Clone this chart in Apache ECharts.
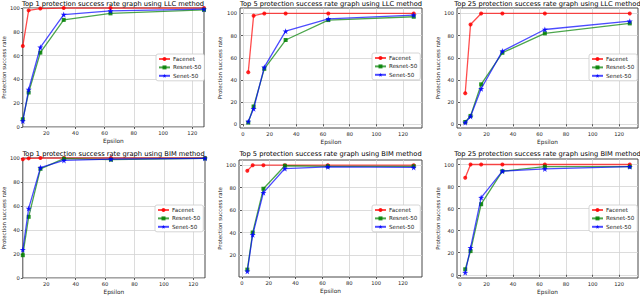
<!DOCTYPE html>
<html>
<head>
<meta charset="utf-8">
<script src="https://cdn.jsdelivr.net/npm/echarts@6/dist/echarts.min.js"></script>
<style>html,body{margin:0;padding:0;background:#fff}#c{width:640px;height:296px}</style>
</head>
<body>
<div id="c"></div>
<script>
// ---------------- data ----------------
const epsilon = [4, 8, 16, 32, 64, 128];
const seriesNames = ['Facenet', 'Resnet-50', 'Senet-50'];
const titles = [
  'Top 1 protection success rate graph using LLC method',
  'Top 5 protection success rate graph using LLC method',
  'Top 25 protection success rate graph using LLC method',
  'Top 1 protection success rate graph using BIM method',
  'Top 5 protection success rate graph using BIM method',
  'Top 25 protection success rate graph using BIM method'
];
const xTickLabels = [0, 20, 40, 60, 80, 100, 120];
const yTickLabels = [0, 20, 40, 60, 80, 100];

const top1LLC_facenet = [68, 98, 99.5, 100, 100, 100];
const top1LLC_resnet  = [6.5, 29, 62.5, 90, 95.5, 98.5];
const top1LLC_senet   = [5, 31.5, 67, 94.5, 97.5, 99];

const top5LLC_facenet = [47, 98, 100, 100, 100, 100];
const top5LLC_resnet  = [1.5, 16, 50, 76, 94, 97];
const top5LLC_senet   = [2.5, 14, 51.5, 84, 95, 98.5];

const top25LLC_facenet = [28, 90, 100, 100, 100, 100];
const top25LLC_resnet  = [2, 7.5, 36, 64.5, 82, 91];
const top25LLC_senet   = [1.5, 7, 32, 66, 85.5, 93];

const top1BIM_facenet = [99, 99.7, 100, 100, 100, 100];
const top1BIM_resnet  = [19, 51, 91, 99.4, 98.6, 99.7];
const top1BIM_senet   = [23.5, 58, 92, 98, 99, 99.7];

const top5BIM_facenet = [95, 100, 100, 100, 100, 100];
const top5BIM_resnet  = [7, 40, 79, 99.5, 99, 99];
const top5BIM_senet   = [5.5, 38, 75.5, 97, 98.5, 98];

const top25BIM_facenet = [88, 100, 100, 100, 100, 100];
const top25BIM_resnet  = [5, 21.5, 64, 94, 98, 98];
const top25BIM_senet   = [2, 24.5, 70, 94, 96, 98];

const panelData = [
  [top1LLC_facenet, top1LLC_resnet, top1LLC_senet],
  [top5LLC_facenet, top5LLC_resnet, top5LLC_senet],
  [top25LLC_facenet, top25LLC_resnet, top25LLC_senet],
  [top1BIM_facenet, top1BIM_resnet, top1BIM_senet],
  [top5BIM_facenet, top5BIM_resnet, top5BIM_senet],
  [top25BIM_facenet, top25BIM_resnet, top25BIM_senet]
];

// ---------------- layout ----------------
const layout = [
  {left: 22,  top: 8,   width: 182, height: 119, xr: [4, 128],      yr: [0, 100],      yGap: 16, leg: [156, 54]},
  {left: 240, top: 8,   width: 182, height: 120, xr: [-2.2, 134.2], yr: [-3.4, 104.9], yGap: 18, leg: [372, 53]},
  {left: 457, top: 8,   width: 181, height: 120, xr: [-2.2, 134.2], yr: [-3.4, 104.9], yGap: 16, leg: [589, 54]},
  {left: 22,  top: 158, width: 183, height: 120, xr: [4, 128],      yr: [0, 100],      yGap: 16, leg: [155, 205]},
  {left: 239, top: 160, width: 183, height: 117, xr: [-2.2, 134.2], yr: [0.4, 104.6],  yGap: 16, leg: [372, 205]},
  {left: 457, top: 159, width: 181, height: 119, xr: [-2.2, 134.2], yr: [-2.9, 105],   yGap: 16, leg: [589, 205]}
];
const colors = ['#ff0000', '#008000', '#0000ff'];
const starPath = 'path://M0,-10 L2.35,-3.24 L9.51,-3.09 L3.8,1.24 L5.88,8.09 L0,4 L-5.88,8.09 L-3.8,1.24 L-9.51,-3.09 L-2.35,-3.24 Z';
const symbols = ['circle', 'rect', starPath];
const symbolSizes = [4, 4, 6];
const FONT = 'DejaVu Sans';

const grids = [], xAxes = [], yAxes = [], series = [], legends = [], graphics = [];
layout.forEach((L, i) => {
  grids.push({left: L.left, top: L.top, width: L.width, height: L.height, show: true,
    borderColor: '#333', borderWidth: 0.9, backgroundColor: 'transparent'});
  const xt = xTickLabels.filter(v => v >= L.xr[0] && v <= L.xr[1]);
  const yt = yTickLabels.filter(v => v >= L.yr[0] && v <= L.yr[1]);
  xAxes.push({type: 'value', gridIndex: i, min: L.xr[0], max: L.xr[1],
    name: 'Epsilon', nameLocation: 'middle', nameGap: 11,
    nameTextStyle: {fontFamily: FONT, fontSize: 5.8, color: '#222222'},
    axisLine: {show: false, lineStyle: {color: '#333333'}},
    axisTick: {show: true, length: 2, lineStyle: {color: '#333', width: 0.8}, customValues: xt},
    axisLabel: {fontFamily: FONT, fontSize: 5.2, color: '#222', margin: 3, customValues: xt},
    splitLine: {show: true, lineStyle: {color: '#d3d3d3', width: 0.8}}});
  yAxes.push({type: 'value', gridIndex: i, min: L.yr[0], max: L.yr[1],
    name: 'Protection success rate', nameLocation: 'middle', nameGap: L.yGap,
    nameTextStyle: {fontFamily: FONT, fontSize: 5.4, color: '#222222'},
    axisLine: {show: false, lineStyle: {color: '#333333'}},
    axisTick: {show: true, length: 2, lineStyle: {color: '#333', width: 0.8}, customValues: yt},
    axisLabel: {fontFamily: FONT, fontSize: 5.2, color: '#222', margin: 3, customValues: yt},
    splitLine: {show: true, lineStyle: {color: '#d3d3d3', width: 0.8}}});
  panelData[i].forEach((vals, k) => {
    series.push({type: 'line', name: seriesNames[k], xAxisIndex: i, yAxisIndex: i,
      data: epsilon.map((e, j) => [e, vals[j]]),
      symbol: symbols[k], symbolSize: symbolSizes[k], showSymbol: true,
      lineStyle: {color: colors[k], width: 1.3, opacity: 0.7},
      itemStyle: {color: colors[k], opacity: 0.85},
      animation: false, z: 2 + k});
  });
  legends.push({orient: 'vertical', left: L.leg[0], top: L.leg[1],
    data: seriesNames, itemWidth: 11, itemHeight: 5, itemGap: 2.4,
    padding: [2, 3, 2, 2], borderColor: '#cccccc', borderWidth: 0.8, borderRadius: 2,
    backgroundColor: '#ffffff', selectedMode: false,
    textStyle: {fontFamily: FONT, fontSize: 5.6, color: '#222', padding: [0, 0, 0, -2]}});
  graphics.push({type: 'text', x: L.left + L.width / 2, y: (i < 3 ? 3.5 : 154),
    style: {text: titles[i], fill: '#000', font: '6.7px "DejaVu Sans"',
      textAlign: 'center', textVerticalAlign: 'middle'}});
});

const chart = echarts.init(document.getElementById('c'), null, {renderer: 'svg'});
chart.setOption({
  animation: false,
  grid: grids, xAxis: xAxes, yAxis: yAxes, series: series, legend: legends,
  graphic: graphics
});
</script>
</body>
</html>
